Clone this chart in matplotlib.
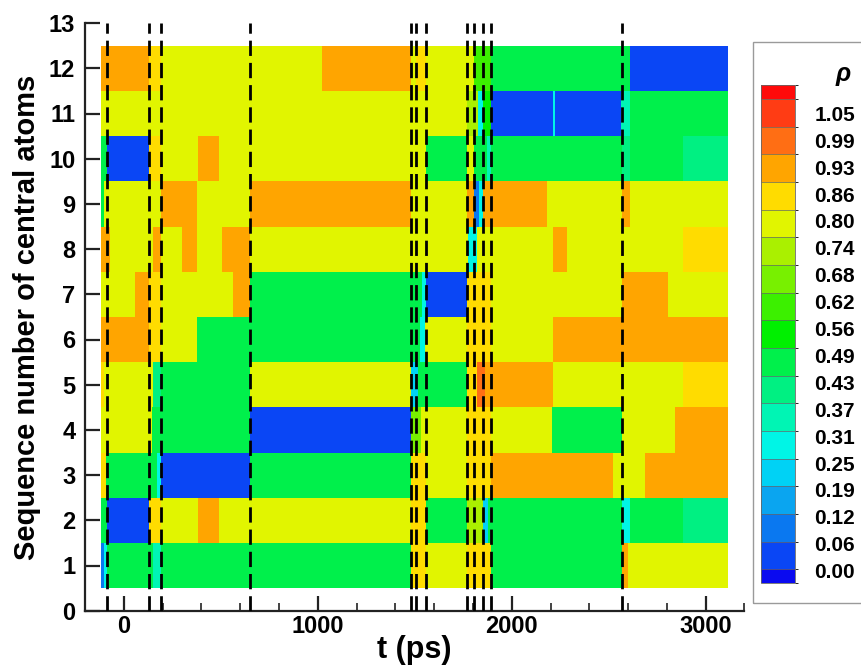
import numpy as np
import matplotlib
matplotlib.use("Agg")
import matplotlib.pyplot as plt
from matplotlib.colors import ListedColormap, BoundaryNorm
from matplotlib.ticker import MultipleLocator, FixedLocator
from matplotlib.patches import Rectangle

# ---------------- data ----------------
level_labels = ["0.00", "0.06", "0.12", "0.19", "0.25", "0.31", "0.37", "0.43", "0.49",
                "0.56", "0.62", "0.68", "0.74", "0.80", "0.86", "0.93", "0.99", "1.05"]
band_colors = ["#0A0AF0", "#0A46F5", "#0A78F0", "#0AA5F0", "#00D2F5", "#00F5E6", "#00F5B4",
               "#00F082", "#00F04B", "#00F000", "#3CF000", "#78F000", "#AAF000", "#E1F500",
               "#FFDC00", "#FFA500", "#FF6E14", "#FF3C14", "#FF0A0A"]

rows = list(range(1, 13))

row01_t = [-119, -100, -85, 153, 190, 1479, 1557, 1768, 1892, 2570, 2600, 3116]
row01_rho = [0.09, 0.30, 0.47, 0.35, 0.47, 0.84, 0.78, 0.84, 0.47, 0.90, 0.78]

row02_t = [-119, -85, 132, 190, 385, 493, 1479, 1557, 1768, 1854, 1880, 2570, 2610, 2885, 3116]
row02_rho = [0.45, 0.03, 0.86, 0.78, 0.90, 0.78, 0.84, 0.47, 0.72, 0.20, 0.47, 0.30, 0.47, 0.40]

row03_t = [-119, -90, 170, 190, 651, 1479, 1557, 1768, 1892, 2523, 2570, 2687, 3116]
row03_rho = [0.84, 0.47, 0.30, 0.03, 0.47, 0.84, 0.78, 0.84, 0.90, 0.80, 0.78, 0.90]

row04_t = [-119, 144, 651, 1479, 1530, 1768, 1892, 2206, 2570, 2842, 3116]
row04_rho = [0.78, 0.47, 0.03, 0.65, 0.78, 0.82, 0.78, 0.47, 0.78, 0.90]

row05_t = [-119, -100, 153, 190, 651, 1479, 1515, 1768, 1819, 1862, 2214, 2885, 3116]
row05_rho = [0.86, 0.78, 0.40, 0.47, 0.78, 0.20, 0.47, 0.84, 0.98, 0.90, 0.78, 0.84]

row06_t = [-119, 132, 190, 376, 1527, 1553, 1768, 1892, 2214, 3116]
row06_rho = [0.90, 0.84, 0.78, 0.47, 0.30, 0.78, 0.82, 0.78, 0.90]

row07_t = [-119, 58, 132, 190, 565, 651, 1535, 1557, 1768, 1892, 2570, 2807, 3116]
row07_rho = [0.78, 0.90, 0.84, 0.78, 0.90, 0.47, 0.30, 0.03, 0.84, 0.78, 0.90, 0.78]

row08_t = [-119, -70, 153, 190, 299, 376, 505, 651, 1776, 1819, 2214, 2283, 2885, 3116]
row08_rho = [0.90, 0.78, 0.88, 0.78, 0.90, 0.78, 0.90, 0.78, 0.28, 0.80, 0.90, 0.78, 0.84]

row09_t = [-119, -100, 190, 376, 651, 1479, 1768, 1806, 1830, 1854, 2180, 2570, 2610, 3116]
row09_rho = [0.47, 0.78, 0.90, 0.78, 0.90, 0.80, 0.88, 0.10, 0.25, 0.90, 0.78, 0.88, 0.78]

row10_t = [-119, -85, 132, 190, 385, 493, 1557, 1768, 1806, 1871, 1892, 2570, 2610, 2885, 3116]
row10_rho = [0.47, 0.03, 0.84, 0.78, 0.90, 0.78, 0.47, 0.80, 0.47, 0.33, 0.47, 0.40, 0.47, 0.40]

row11_t = [-119, 1768, 1828, 1854, 1892, 2214, 2222, 2565, 2610, 3116]
row11_rho = [0.78, 0.70, 0.28, 0.55, 0.03, 0.30, 0.03, 0.35, 0.47]

row12_t = [-119, 132, 190, 1020, 1479, 1505, 1557, 1768, 1806, 1892, 2610, 3116]
row12_rho = [0.90, 0.85, 0.78, 0.90, 0.80, 0.86, 0.78, 0.75, 0.60, 0.47, 0.03]

dashed_t = [-85, 132, 190, 651, 1479, 1505, 1557, 1768, 1806, 1854, 1892, 2570]

x_ticks = [0, 1000, 2000, 3000]
y_ticks = list(range(0, 14))

# ---------------- style ----------------
plt.rcParams["font.family"] = ["Liberation Sans", "DejaVu Sans"]
plt.rcParams["font.weight"] = "bold"

W, H = 862, 666
fig = plt.figure(figsize=(W / 100, H / 100), dpi=100)

def fx(px):
    return px / W

def fy(py):
    return 1 - py / H

ax = fig.add_axes([fx(85), fy(610.7), fx(744.5 - 85), (610.7 - 23.1) / H])

step = 1.05 / 17
levels = np.arange(18) * step
bounds = np.concatenate([[levels[0] - step / 2], levels, [levels[-1] + step / 2]])
cmap = ListedColormap(band_colors)
norm = BoundaryNorm(bounds, ncolors=len(band_colors), clip=True)

row_t = [row01_t, row02_t, row03_t, row04_t, row05_t, row06_t,
         row07_t, row08_t, row09_t, row10_t, row11_t, row12_t]
row_rho = [row01_rho, row02_rho, row03_rho, row04_rho, row05_rho, row06_rho,
           row07_rho, row08_rho, row09_rho, row10_rho, row11_rho, row12_rho]

mesh = None
for r, te, vals in zip(rows, row_t, row_rho):
    mesh = ax.pcolormesh(np.array(te, float), [r - 0.5, r + 0.5], np.array([vals]),
                         cmap=cmap, norm=norm, shading="flat", edgecolors="none",
                         antialiased=False)

for t in dashed_t:
    ax.axvline(t, color="black", lw=2.0, ls=(0, (5.5, 2.5)), zorder=5)

ax.set_xlim(-200, 3200)
ax.set_ylim(0, 13)
ax.xaxis.set_major_locator(FixedLocator(x_ticks))
ax.xaxis.set_minor_locator(MultipleLocator(200))
ax.yaxis.set_major_locator(FixedLocator(y_ticks))
for s in ["top", "right"]:
    ax.spines[s].set_visible(False)
for s in ["left", "bottom"]:
    ax.spines[s].set_linewidth(1.6)
    ax.spines[s].set_color("#222222")
ax.tick_params(axis="both", which="major", direction="in", length=10.5, width=1.6,
               color="#222222", labelsize=17)
ax.tick_params(axis="x", which="minor", direction="in", length=5.8, width=1.2, color="#222222")
ax.tick_params(axis="x", which="major", pad=3)
ax.tick_params(axis="y", which="major", pad=7)
for lab in ax.get_xticklabels() + ax.get_yticklabels():
    lab.set_fontweight("bold")
ax.set_xlabel("t (ps)", fontsize=22, fontweight="bold", labelpad=-2)
ax.set_ylabel("Sequence number of central atoms", fontsize=21, fontweight="bold", labelpad=6)

# ---------------- legend box + colour bar ----------------
fig.patches.append(Rectangle((fx(753), fy(603)), fx(130), (603 - 42) / H,
                             transform=fig.transFigure, facecolor="none",
                             edgecolor="#9A9A9A", lw=1.0, zorder=-1))
cax = fig.add_axes([fx(761), fy(583), fx(795 - 761), (583 - 85) / H])
cax.set_zorder(3)
cb = fig.colorbar(mesh, cax=cax, boundaries=bounds, spacing="proportional",
                  drawedges=True)
cb.outline.set_linewidth(0.6)
cb.outline.set_edgecolor("#666666")
cb.dividers.set_color("#666666")
cb.dividers.set_linewidth(0.5)
tick_pos = np.linspace(-0.0034, 1.0176, len(level_labels))
cb.set_ticks(tick_pos)
cb.set_ticklabels(level_labels)
cax.tick_params(length=0, pad=14, labelsize=15)
for lab in cax.get_yticklabels():
    lab.set_fontweight("bold")
fig.text(fx(843), fy(74), "ρ", fontsize=18, fontweight="bold", fontstyle="italic",
         ha="center", va="center")

fig.savefig("out.png", dpi=100)
